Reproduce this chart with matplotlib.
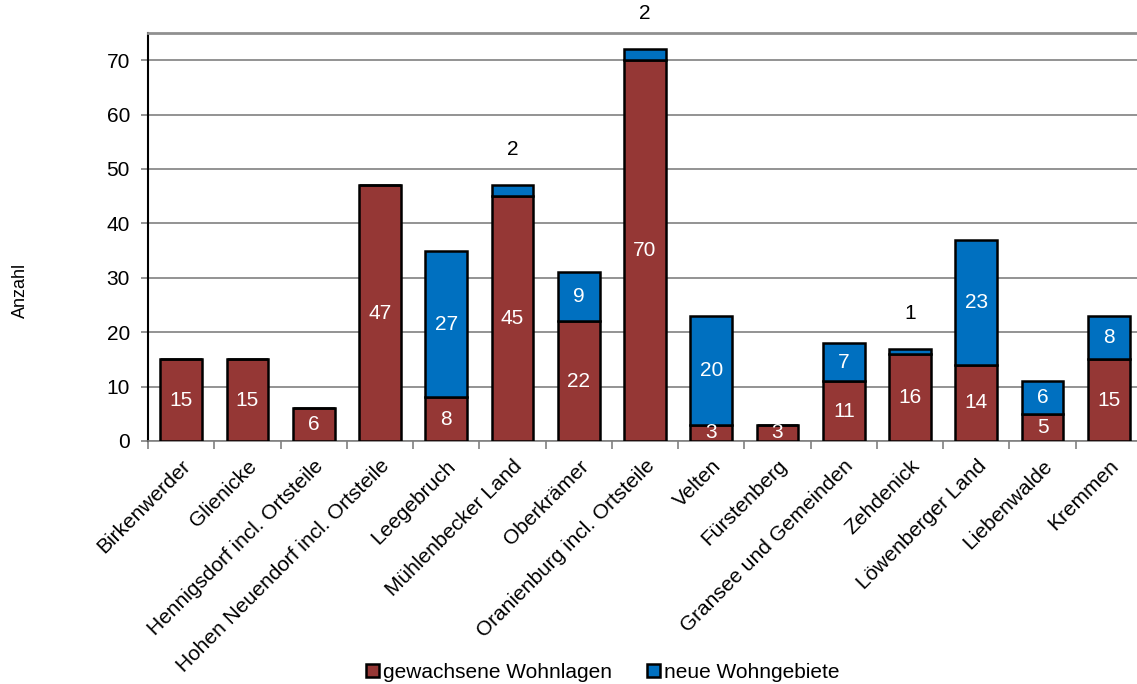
import numpy as np
import matplotlib.pyplot as plt

plt.rcParams.update({
    "font.family": ["Liberation Sans", "DejaVu Sans"],
    "font.size": 15,
})

orte = ["Birkenwerder", "Glienicke", "Hennigsdorf incl. Ortsteile",
        "Hohen Neuendorf incl. Ortsteile", "Leegebruch", "Mühlenbecker Land",
        "Oberkrämer", "Oranienburg incl. Ortsteile", "Velten", "Fürstenberg",
        "Gransee und Gemeinden", "Zehdenick", "Löwenberger Land",
        "Liebenwalde", "Kremmen"]
gewachsen = [15, 15, 6, 47, 8, 45, 22, 70, 3, 3, 11, 16, 14, 5, 15]
neu = [0, 0, 0, 0, 27, 2, 9, 2, 20, 0, 7, 1, 23, 6, 8]

red = "#953735"
blue = "#0070C0"

fig = plt.figure(figsize=(11.37, 6.84), dpi=100)
W, H = 1137, 684
ax = fig.add_axes([148 / W, (H - 441) / H, (1142 - 148) / W, (441 - 33) / H])

x = np.arange(len(orte))
g = np.array(gewachsen)
n = np.array(neu)
ax.bar(x, g, width=0.63, color=red, edgecolor="black", linewidth=1.8,
       label="gewachsene Wohnlagen", zorder=3)
ax.bar(x, n, width=0.63, bottom=g, color=blue, edgecolor="black", linewidth=1.8,
       label="neue Wohngebiete", zorder=3)

# value labels
for i in range(len(orte)):
    ax.text(x[i], g[i] / 2, str(g[i]), ha="center", va="center",
            color="white", fontsize=15, zorder=4)
    if n[i] >= 5:
        ax.text(x[i], g[i] + n[i] / 2, str(n[i]), ha="center", va="center",
                color="white", fontsize=15, zorder=4)
    elif n[i] > 0:
        # small segments: label sits above the bar
        ax.text(x[i], g[i] + n[i] + 6.5, str(n[i]), ha="center", va="center",
                color="black", fontsize=15, zorder=4, clip_on=False)

ax.set_xlim(-0.5, len(orte) - 0.5)
ax.set_ylim(0, 75)
ax.set_yticks(range(0, 71, 10))
ax.yaxis.grid(True, color="#808080", linewidth=1.2, zorder=0)

ax.set_xticks(x)
ax.set_xticklabels(orte, rotation=45, ha="right", rotation_mode="anchor")
ax.set_xticks(np.arange(-0.5, len(orte), 1), minor=True)
ax.tick_params(axis="x", which="major", length=0, pad=11)
ax.tick_params(axis="x", which="minor", length=6, color="#808080", width=1.2)
ax.tick_params(axis="y", length=5, color="#808080", width=1.2, pad=8)

ax.spines["left"].set_color("black")
ax.spines["left"].set_linewidth(1.5)
ax.spines["bottom"].set_color("#808080")
ax.spines["bottom"].set_linewidth(1.2)
ax.spines["top"].set_color("#909090")
ax.spines["top"].set_linewidth(2)
ax.spines["right"].set_visible(False)

fig.text(20 / W, 1 - 290 / H, "Anzahl", rotation=90, ha="center", va="center",
         fontsize=13)

leg = fig.legend(loc="center", bbox_to_anchor=(603 / W, 1 - 672 / H), ncol=2,
                 frameon=False, handlelength=0.6, handleheight=0.6,
                 handletextpad=0.2, columnspacing=1.7, fontsize=15)

fig.savefig("out.png", dpi=100)
